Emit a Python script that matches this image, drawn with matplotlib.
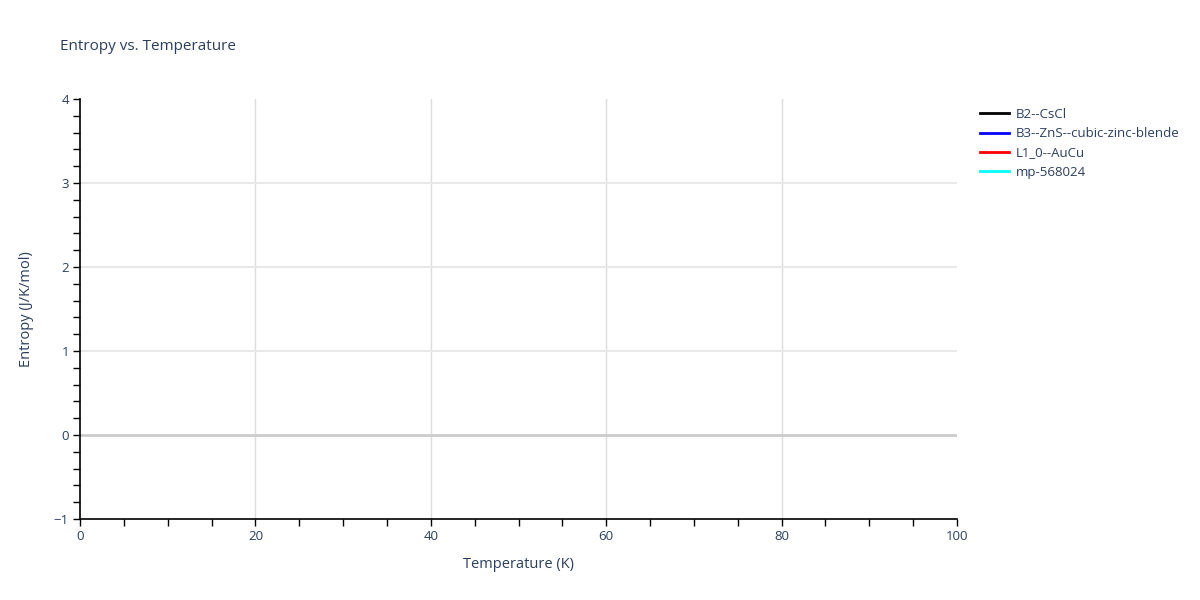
import matplotlib
matplotlib.use("Agg")
import matplotlib.pyplot as plt
from matplotlib.ticker import MultipleLocator
from matplotlib.lines import Line2D

# Data (the reference shows no visible points for any series)
series_names = ["B2--CsCl", "B3--ZnS--cubic-zinc-blende", "L1_0--AuCu", "mp-568024"]
series_colors = ["black", "blue", "red", "cyan"]
temperature = []
entropy_b2 = []
entropy_b3 = []
entropy_l10 = []
entropy_mp = []
series_values = [entropy_b2, entropy_b3, entropy_l10, entropy_mp]

x_ticks = [0, 20, 40, 60, 80, 100]
y_ticks = [-1, 0, 1, 2, 3, 4]

TXT = "#2a3f5f"
plt.rcParams["font.family"] = ["Open Sans", "DejaVu Sans"]

fig = plt.figure(figsize=(12, 6), dpi=100)
ax = fig.add_axes([80/1200, 1 - 519/600, (957-80)/1200, (519-99)/600])

for name, col, vals in zip(series_names, series_colors, series_values):
    ax.plot(temperature, vals, color=col, lw=2, label=name)

ax.set_xlim(0, 100)
ax.set_ylim(-1, 4)
ax.set_xticks(x_ticks)
ax.set_yticks(y_ticks)
ax.set_yticklabels(["\u22121" if v == -1 else str(v) for v in y_ticks])
ax.xaxis.set_minor_locator(MultipleLocator(5))
ax.yaxis.set_minor_locator(MultipleLocator(0.2))

ax.grid(False)
for xv in x_ticks[1:-1]:
    ax.axvline(xv, color="#dcdcdc", lw=1, zorder=0)
for yv in y_ticks:
    if yv == 0:
        ax.axhline(0, color="#cccccc", lw=2, zorder=0.5)
    elif yv not in (-1, 4):
        ax.axhline(yv, color="#e8e8e8", lw=1.5, zorder=0)

for s in ["top", "right"]:
    ax.spines[s].set_visible(False)
for s in ["left", "bottom"]:
    ax.spines[s].set_color("black")
    ax.spines[s].set_linewidth(1.2)

ax.tick_params(axis="both", which="major", direction="out", length=5, width=1,
               color="black", labelcolor=TXT, labelsize=9.5, pad=3)
ax.tick_params(axis="both", which="minor", direction="out", length=5, width=1, color="black")

ax.set_xlabel("Temperature (K)", color=TXT, fontsize=10.5, labelpad=10)
ax.set_ylabel("Entropy (J/K/mol)", color=TXT, fontsize=10.5, labelpad=14)

fig.text(60/1200, 1 - 46/600, "Entropy vs. Temperature", color=TXT, fontsize=11, va="center", ha="left")

handles = [Line2D([0], [0], color=c, lw=2) for c in series_colors]
leg = fig.legend(handles, series_names, loc="upper left", bbox_to_anchor=(980/1200, 1 - 108/600),
                 frameon=False, fontsize=9.5, labelcolor=TXT, handlelength=2.2, handletextpad=0.5,
                 labelspacing=0.47, borderaxespad=0, borderpad=0)

fig.savefig("out.png", dpi=100, facecolor="white")
